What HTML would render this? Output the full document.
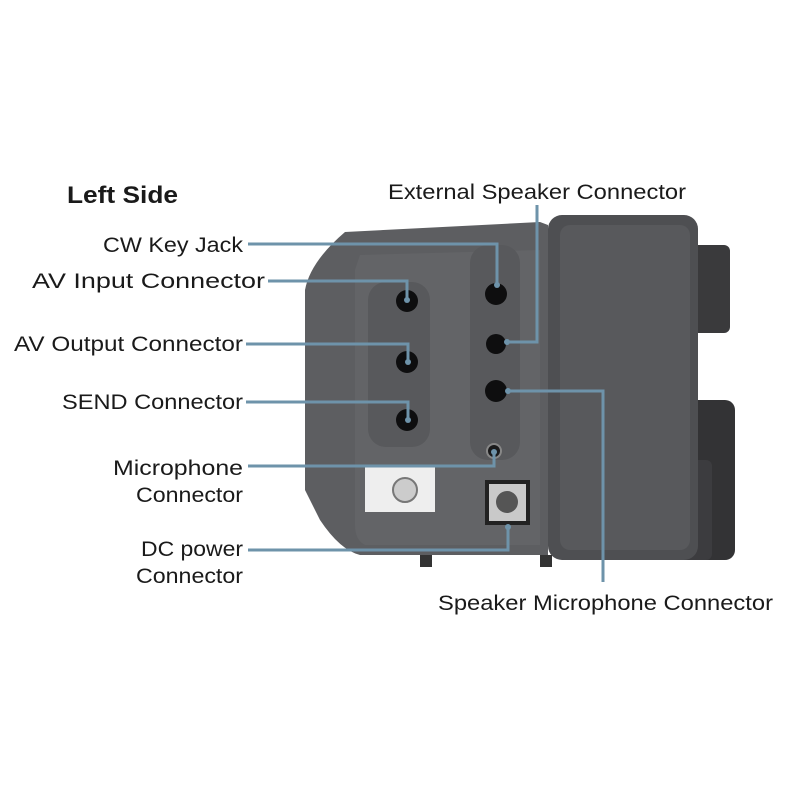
<!DOCTYPE html><html><head><style>body{margin:0;background:#fff}svg{display:block}</style></head><body>
<svg width="800" height="800" viewBox="0 0 800 800" xmlns="http://www.w3.org/2000/svg" font-family="Liberation Sans, sans-serif">
<rect width="800" height="800" fill="#fff"/>
<rect x="690" y="245" width="40" height="88" rx="6" fill="#3a3a3c"/>
<rect x="655" y="400" width="80" height="160" rx="10" fill="#333335"/>
<rect x="662" y="460" width="50" height="100" rx="6" fill="#3c3c3f"/>
<rect x="548" y="215" width="150" height="345" rx="14" fill="#4e4f52"/>
<rect x="560" y="225" width="130" height="325" rx="10" fill="#58595c"/>
<path d="M345 232 L540 222 L548 225 L548 555 L360 555 Q340 550 320 520 L305 490 L305 290 Q310 262 345 232 Z" fill="#5d5e61"/>
<path d="M360 255 L540 250 L540 545 L365 545 Q355 540 355 525 L355 270 Z" fill="#636467"/>
<rect x="368" y="282" width="62" height="165" rx="18" fill="#58595c"/>
<rect x="470" y="245" width="50" height="215" rx="18" fill="#58595c"/>
<circle cx="407" cy="301" r="11" fill="#0e0e0f"/>
<circle cx="407" cy="362" r="11" fill="#0e0e0f"/>
<circle cx="407" cy="420" r="11" fill="#0e0e0f"/>
<circle cx="496" cy="294" r="11" fill="#0e0e0f"/>
<circle cx="496" cy="344" r="10" fill="#0e0e0f"/>
<circle cx="496" cy="391" r="11" fill="#0e0e0f"/>
<circle cx="494" cy="451" r="7" fill="#1a1a1b" stroke="#888" stroke-width="2"/>
<rect x="485" y="480" width="45" height="45" fill="#222"/>
<rect x="489" y="484" width="37" height="37" fill="#c9c9c9"/>
<circle cx="507" cy="502" r="11" fill="#555"/>
<rect x="365" y="467" width="70" height="45" fill="#eee"/>
<circle cx="405" cy="490" r="12" fill="#ccc" stroke="#777" stroke-width="2"/>
<rect x="420" y="555" width="12" height="12" fill="#333"/>
<rect x="540" y="555" width="12" height="12" fill="#333"/>
<g stroke="#6e93aa" stroke-width="3" fill="none">
<polyline points="248,244 497,244 497,285"/>
<polyline points="268,281 407,281 407,300"/>
<polyline points="246,344 408,344 408,362"/>
<polyline points="246,402 408,402 408,420"/>
<polyline points="248,466 494,466 494,452"/>
<polyline points="248,550 508,550 508,527"/>
<polyline points="537,205 537,342 507,342"/>
<polyline points="508,391 603,391 603,582"/>
</g>
<g fill="#6e93aa"><circle cx="497" cy="285" r="3"/><circle cx="407" cy="300" r="3"/><circle cx="408" cy="362" r="3"/><circle cx="408" cy="420" r="3"/><circle cx="494" cy="452" r="3"/><circle cx="508" cy="527" r="3"/><circle cx="507" cy="342" r="3"/><circle cx="508" cy="391" r="3"/></g>
<g fill="#1a1a1a" font-size="21">
<text x="67" y="203" font-weight="bold" font-size="24" textLength="111" lengthAdjust="spacingAndGlyphs">Left Side</text>
<text x="388" y="199" textLength="298" lengthAdjust="spacingAndGlyphs">External Speaker Connector</text>
<text x="103" y="252" textLength="140" lengthAdjust="spacingAndGlyphs">CW Key Jack</text>
<text x="32" y="288" textLength="233" lengthAdjust="spacingAndGlyphs">AV Input Connector</text>
<text x="14" y="351" textLength="229" lengthAdjust="spacingAndGlyphs">AV Output Connector</text>
<text x="62" y="409" textLength="181" lengthAdjust="spacingAndGlyphs">SEND Connector</text>
<text x="113" y="475" textLength="130" lengthAdjust="spacingAndGlyphs">Microphone</text>
<text x="136" y="502" textLength="107" lengthAdjust="spacingAndGlyphs">Connector</text>
<text x="141" y="556" textLength="102" lengthAdjust="spacingAndGlyphs">DC power</text>
<text x="136" y="583" textLength="107" lengthAdjust="spacingAndGlyphs">Connector</text>
<text x="438" y="610" textLength="335" lengthAdjust="spacingAndGlyphs">Speaker Microphone Connector</text>
</g>
</svg>
</body></html>
